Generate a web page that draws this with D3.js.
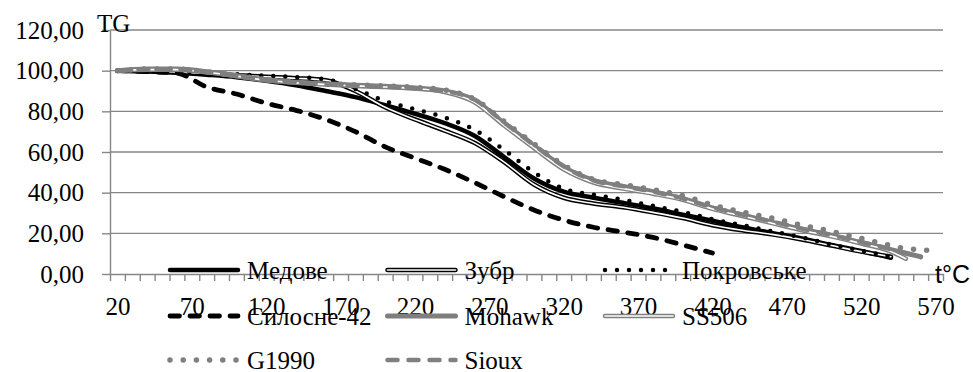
<!DOCTYPE html>
<html>
<head>
<meta charset="utf-8">
<script src="https://cdn.jsdelivr.net/npm/d3@7/dist/d3.min.js"></script>
<style>
body { margin: 0; background: #fff; }
svg text { font-family: "Liberation Serif", "Times New Roman", "DejaVu Serif", serif; fill: #000; }
</style>
</head>
<body>
<svg id="chart" width="973" height="372"></svg>
<script>
// temperature points (°C)
const temps = [20, 40, 60, 80, 100, 120, 140, 160, 180, 200, 220, 240, 260, 280, 300,
  320, 340, 360, 380, 400, 420, 440, 460, 480, 500, 520, 540, 550, 560, 570];

// TG values, %
const medove = [100, 99.6, 99, 98, 96.8, 95, 92.8, 90, 87, 83, 78.8, 74.2, 68, 57.5, 47,
  40.5, 37.5, 35, 32.3, 29.2, 26.2, 23, 20.2, 17.5, 14.3, 11.3, 8, null, null, null];
const zubr = [100, 99.8, 99.4, 98.6, 97.8, 97, 96.3, 95.3, 90, 82, 76, 70.5, 64.5, 55, 44,
  37.5, 34.7, 32.8, 30.3, 27.5, 24, 21.5, 19.5, 17, 14, 11, 8.5, null, null, null];
const pokrovske = [100, 99.8, 99.5, 98.8, 98.2, 97.5, 96.8, 95.8, 91, 85, 81, 77, 71, 61, 50,
  42, 39, 36.5, 33.5, 30.5, 27, 24, 21, 18, 14.5, 11.5, 8.5, null, null, null];
const silosne = [100, 99.5, 98.8, 92, 88.5, 84, 80.5, 76, 70, 62.5, 57, 51.5, 45, 38, 31.5,
  26.5, 23, 20.6, 18, 14.3, 10.3, null, null, null, null, null, null, null, null, null];
const mohawk = [100, 100.8, 100.8, 99.5, 97.5, 95.5, 94.3, 93.5, 92.8, 92.3, 91.5, 90, 85.5, 74, 63,
  52.5, 46, 43, 40.5, 37, 32.5, 29, 25.5, 22, 19, 15.5, 12, 10.2, 8.5, null];
const ss506 = [100, 100.5, 100.5, 99.2, 97.3, 95.3, 94, 93.2, 92.5, 92, 91.2, 89.5, 84.5, 73, 62,
  51.5, 45, 42, 39.5, 36.5, 32, 28.5, 25, 21.5, 18.5, 15, 11, 7.5, null, null];
const g1990 = [100, 100.8, 100.8, 99.5, 97.6, 95.6, 94.4, 93.6, 93, 92.5, 91.8, 90.5, 86, 75, 64,
  53.5, 46.5, 44, 41.5, 38.5, 34, 30.5, 27.5, 24, 21, 17.5, 14, 12.5, 12, 11];
const sioux = [100, 100.7, 100.7, 99.4, 97.4, 95.4, 94.2, 93.4, 92.7, 92.2, 91.4, 90, 85.8, 74.5, 63.5,
  53, 46, 43.2, 40.5, 37.2, 32.8, 29.2, 25.8, 22.3, 19.2, 15.7, 12.2, 10.3, 8.3, null];

const seriesNames = ['Медове', 'Зубр', 'Покровське', 'Силосне-42', 'Mohawk', 'SS506', 'G1990', 'Sioux'];
const yTicks = [0, 20, 40, 60, 80, 100, 120];
const xLabels = [20, 70, 120, 170, 220, 270, 320, 370, 420, 470, 520, 570];

const gray = '#7f7f7f';
const styles = [
  {values: medove, color: '#000', width: 4.5, dash: null, double: false},
  {values: zubr, color: '#000', width: 4.5, dash: null, double: true},
  {values: pokrovske, color: '#000', width: 4.5, dash: '0,12', double: false},
  {values: silosne, color: '#000', width: 4.8, dash: '9.5,10.5', double: false},
  {values: mohawk, color: gray, width: 5, dash: null, double: false},
  {values: ss506, color: gray, width: 4.5, dash: null, double: true},
  {values: g1990, color: gray, width: 5.5, dash: '0,13.2', double: false},
  {values: sioux, color: gray, width: 4.5, dash: '10,11', double: false}
];

const svg = d3.select('#chart');

const x = d3.scaleLinear().domain([15, 575]).range([110, 943]);
const y = d3.scaleLinear().domain([0, 120]).range([274, 30]);

const comma = d3.formatLocale({decimal: ',', thousands: ' ', grouping: [3], currency: ['', '']}).format('.2f');

// gridlines
svg.append('g')
  .selectAll('line')
  .data(yTicks.filter(d => d > 0))
  .join('line')
  .attr('x1', x(15)).attr('x2', x(575))
  .attr('y1', d => y(d)).attr('y2', d => y(d))
  .attr('stroke', '#868686')
  .attr('stroke-width', 1.4);

// y axis
const yAxis = svg.append('g')
  .attr('transform', `translate(${x(15)},0)`)
  .call(d3.axisLeft(y).tickValues(yTicks).tickSize(8).tickSizeOuter(0).tickPadding(18).tickFormat(comma));
yAxis.attr('font-family', null).attr('font-size', null);
yAxis.select('.domain').attr('stroke', '#868686').attr('stroke-width', 1.4);
yAxis.selectAll('.tick line').attr('stroke', '#868686').attr('stroke-width', 1.4);
yAxis.selectAll('text').style('font-size', '25px').attr('fill', '#000');

// x axis: minor ticks between categories, labels every 50 degrees
const xAxis = svg.append('g')
  .attr('transform', `translate(0,${y(0)})`)
  .call(d3.axisBottom(x).tickValues(d3.range(15, 576, 10)).tickSize(7).tickSizeOuter(0).tickFormat(''));
xAxis.select('.domain').attr('stroke', '#868686').attr('stroke-width', 1.4);
xAxis.selectAll('.tick line').attr('stroke', '#868686').attr('stroke-width', 1.4);

const xLab = svg.append('g')
  .attr('transform', `translate(0,${y(0)})`)
  .call(d3.axisBottom(x).tickValues(xLabels).tickSize(0).tickPadding(23).tickFormat(d3.format('d')));
xLab.attr('font-family', null).attr('font-size', null);
xLab.select('.domain').remove();
xLab.selectAll('text').style('font-size', '25px').attr('fill', '#000');

// series
const line = d3.line()
  .defined(d => d.v != null)
  .x(d => x(d.t))
  .y(d => y(d.v))
  .curve(d3.curveMonotoneX);

const plot = svg.append('g');
styles.forEach(s => {
  const pts = temps.map((t, i) => ({t: t, v: s.values[i]}));
  const p = plot.append('path')
    .attr('d', line(pts))
    .attr('fill', 'none')
    .attr('stroke', s.color)
    .attr('stroke-width', s.width)
    .attr('stroke-linecap', 'round')
    .attr('stroke-linejoin', 'round');
  if (s.dash) p.attr('stroke-dasharray', s.dash);
  if (s.double) {
    plot.append('path')
      .attr('d', line(pts))
      .attr('fill', 'none')
      .attr('stroke', '#fff')
      .attr('stroke-width', 1.6)
      .attr('stroke-linecap', 'round')
      .attr('stroke-linejoin', 'round');
  }
});

// legend, 3 columns
const legRows = [270, 316, 360];
const legCols = [170, 387.5, 605];
const legend = svg.append('g');
seriesNames.forEach((name, i) => {
  const s = styles[i];
  const lx = legCols[i % 3], ly = legRows[Math.floor(i / 3)];
  const l = legend.append('line')
    .attr('x1', lx).attr('x2', lx + 68)
    .attr('y1', ly).attr('y2', ly)
    .attr('stroke', s.color)
    .attr('stroke-width', s.width)
    .attr('stroke-linecap', 'round');
  if (s.dash) l.attr('stroke-dasharray', s.dash);
  if (s.double) {
    legend.append('line')
      .attr('x1', lx).attr('x2', lx + 68)
      .attr('y1', ly).attr('y2', ly)
      .attr('stroke', '#fff')
      .attr('stroke-width', 1.6)
      .attr('stroke-linecap', 'round');
  }
  legend.append('text')
    .attr('x', lx + 77)
    .attr('y', ly + 9)
    .style('font-size', '25px')
    .text(name);
});

// axis titles
svg.append('text')
  .attr('x', 97).attr('y', 32)
  .style('font-size', '25px')
  .text('TG');
svg.append('text')
  .attr('x', 935).attr('y', 283)
  .style('font-size', '25px')
  .style('font-family', '"Liberation Sans", Arial, sans-serif')
  .text('t°C');
</script>
</body>
</html>
